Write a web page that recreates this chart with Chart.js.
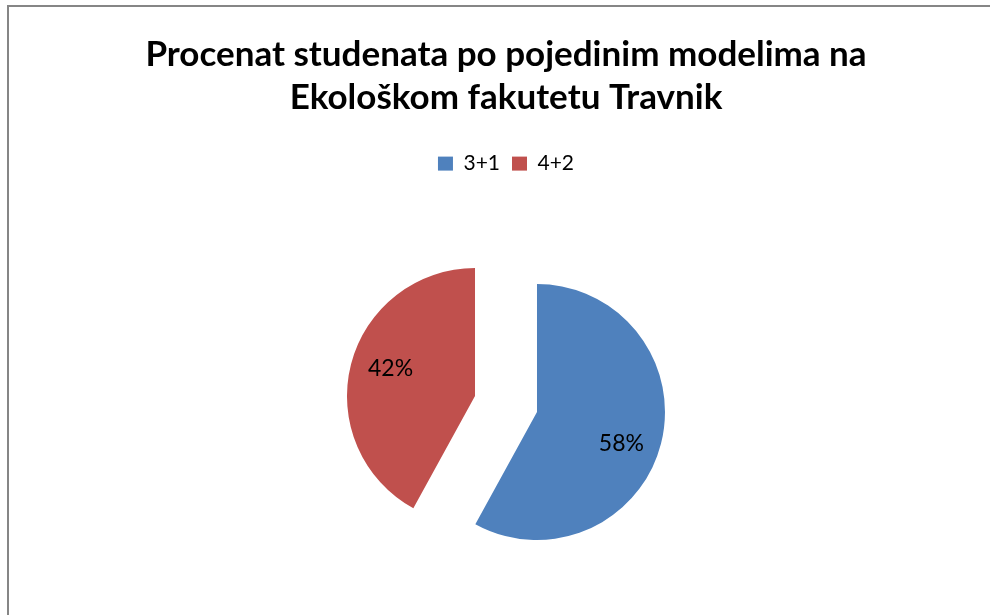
<!DOCTYPE html>
<html>
<head>
<meta charset="utf-8">
<script src="https://cdn.jsdelivr.net/npm/chart.js@4"></script>
<style>
  html, body { margin: 0; padding: 0; background: #fff; overflow: hidden; }
  #wrap { position: absolute; left: 0; top: 0; width: 990px; height: 640px; }
</style>
</head>
<body>
<div id="wrap"><canvas id="grafikon"></canvas></div>
<script>
// podaci
const modeli = ["3+1", "4+2"];
const procenti = [58, 42];
const boje = ["#4F81BD", "#C0504D"];
const naslov = ["Procenat studenata po pojedinim modelima na", "Ekološkom fakutetu Travnik"];

const POLUPRECNIK = 128;
const IZVLACENJE = 32; // koliko je svaki isjecak izvucen iz centra

// okvir grafikona (lijeva i gornja linija)
const okvir = {
  id: "okvir",
  beforeDraw(chart) {
    const c = chart.ctx;
    c.save();
    c.strokeStyle = "#868686";
    c.lineWidth = 2;
    c.beginPath();
    c.moveTo(8, 640);
    c.lineTo(8, 6);
    c.lineTo(990, 6);
    c.stroke();
    c.restore();
  }
};

// izvlacenje isjecaka bez Chart.js "offset" (koji iskosi ivice)
const izvuci = {
  id: "izvuci",
  afterDatasetsUpdate(chart) {
    chart.getDatasetMeta(0).data.forEach(arc => {
      const mid = (arc.startAngle + arc.endAngle) / 2;
      arc.x += Math.cos(mid) * IZVLACENJE;
      arc.y += Math.sin(mid) * IZVLACENJE;
    });
  }
};

// procenti unutar isječaka
const oznake = {
  id: "oznake",
  afterDatasetsDraw(chart) {
    const c = chart.ctx;
    const meta = chart.getDatasetMeta(0);
    const ukupno = procenti.reduce((a, b) => a + b, 0);
    c.save();
    c.font = "23px Lato";
    c.fillStyle = "#000";
    c.textAlign = "center";
    c.textBaseline = "middle";
    meta.data.forEach((arc, i) => {
      const ugao = (arc.startAngle + arc.endAngle) / 2 + 0.09;
      const r = arc.outerRadius * 0.7;
      const tekst = Math.round(procenti[i] / ukupno * 100) + "%";
      c.fillText(tekst, arc.x + Math.cos(ugao) * r, arc.y + Math.sin(ugao) * r + 2);
    });
    c.restore();
  }
};

new Chart(document.getElementById("grafikon"), {
  type: "pie",
  data: {
    labels: modeli,
    datasets: [{
      data: procenti,
      backgroundColor: boje,
      borderWidth: 0,
      hoverOffset: 0
    }]
  },
  options: {
    responsive: true,
    maintainAspectRatio: false,
    animation: false,
    events: [],
    radius: POLUPRECNIK,
    layout: { padding: { left: 22, right: 0, top: 0, bottom: 16 } },
    plugins: {
      tooltip: { enabled: false },
      title: {
        display: true,
        text: naslov,
        color: "#000",
        font: { family: "Lato", size: 35, weight: "bold", lineHeight: 1.23 },
        padding: { top: 33, bottom: 22 }
      },
      legend: {
        position: "top",
        labels: {
          color: "#000",
          font: { family: "Lato", size: 21 },
          boxWidth: 15,
          boxHeight: 14,
          padding: 12
        }
      }
    }
  },
  plugins: [okvir, izvuci, oznake]
});
</script>
</body>
</html>
